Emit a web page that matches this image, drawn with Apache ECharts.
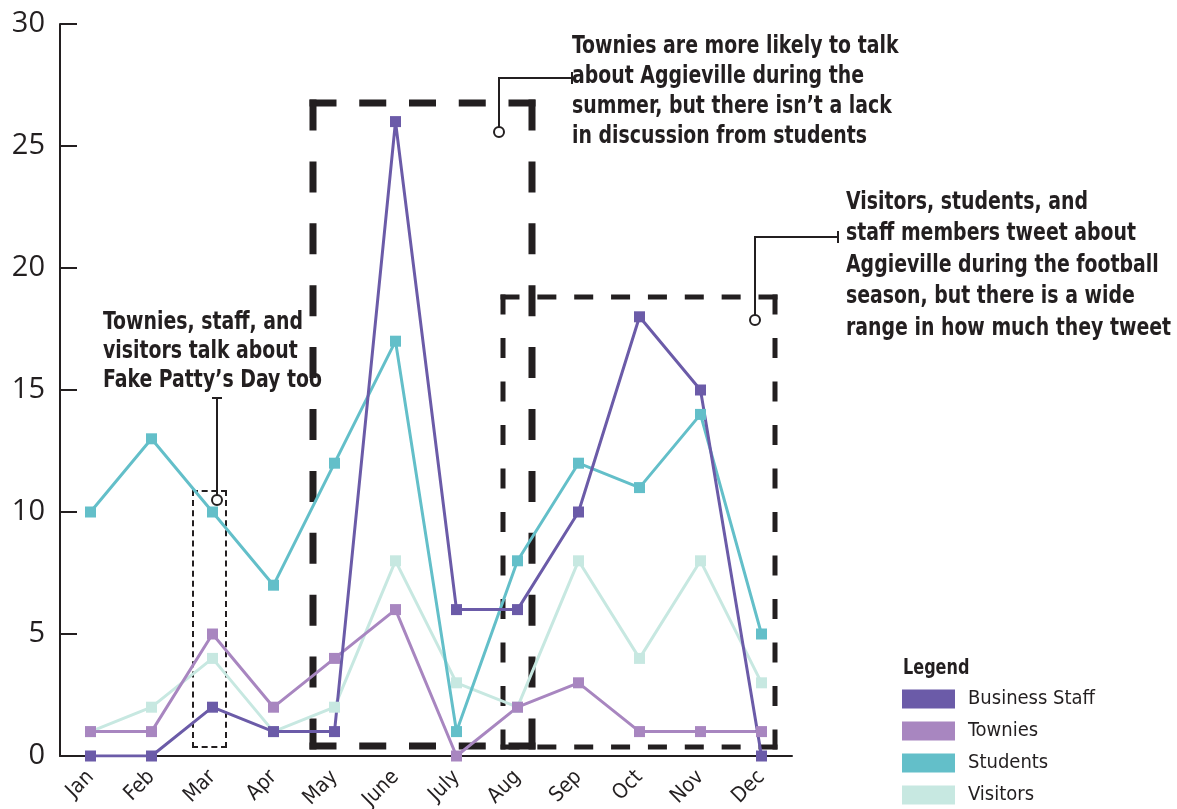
<!DOCTYPE html>
<html>
<head>
<meta charset="utf-8">
<script src="https://cdn.jsdelivr.net/npm/echarts@6/dist/echarts.min.js"></script>
<style>
html,body{margin:0;padding:0;background:#fff;}
#chart{width:1177px;height:809px;}
</style>
</head>
<body>
<div id="chart"></div>
<script>
const months = ['Jan','Feb','Mar','Apr','May','June','July','Aug','Sep','Oct','Nov','Dec'];
const businessStaff = [0,0,2,1,1,26,6,6,10,18,15,0];
const townies = [1,1,5,2,4,6,0,2,3,1,1,1];
const students = [10,13,10,7,12,17,1,8,12,11,14,5];
const visitors = [1,2,4,1,2,8,3,2,8,4,8,3];
const yTicks = [0,5,10,15,20,25,30];

const colors = {
  'Business Staff': '#6b5ba8',
  'Townies': '#a886c0',
  'Students': '#63bfc9',
  'Visitors': '#c7e8e1'
};
const NARROW = '"DejaVu Sans Condensed","Liberation Sans Narrow",sans-serif';
const INK = '#231f20';

function mkSeries(name, data) {
  return {
    name: name, type: 'line', data: data,
    symbol: 'rect', symbolSize: 11,
    lineStyle: {width: 3, color: colors[name]},
    itemStyle: {color: colors[name]},
    emphasis: {disabled: true},
    animation: false
  };
}

// dashed side whose dashes begin and end exactly at its corners
function side(p1, p2, w, d, g) {
  const L = Math.hypot(p2[0] - p1[0], p2[1] - p1[1]) + w;
  let n = Math.max(2, Math.round((L + g) / (d + g)));
  const gap = (L - n * d) / (n - 1);
  const ux = (p2[0] - p1[0]) / (L - w), uy = (p2[1] - p1[1]) / (L - w);
  const a = [p1[0] - ux * w / 2, p1[1] - uy * w / 2];
  const b = [p2[0] + ux * w / 2, p2[1] + uy * w / 2];
  return {type:'polyline', shape:{points:[a, b]}, style:{stroke: INK, lineWidth: w, lineDash: [d, gap], fill: null, lineCap: 'butt'}, z: 1};
}
function dashedBox(x1, y1, x2, y2, w, dh, gh, dv, gv) {
  return [
    side([x1,y1],[x2,y1], w, dh, gh),
    side([x1,y2],[x2,y2], w, dh, gh),
    side([x1,y1],[x1,y2], w, dv, gv),
    side([x2,y1],[x2,y2], w, dv, gv)
  ];
}
function conn(points, circle) {
  return [
    {type:'polyline', shape:{points: points}, style:{stroke: INK, lineWidth: 2, fill: null}, z: 5},
    {type:'circle', shape:{cx: circle[0], cy: circle[1], r: 5}, style:{stroke: INK, lineWidth: 2, fill: '#fff'}, z: 5}
  ];
}
function note(x, y, text, lh, size, sx) {
  return {type:'text', x: x, y: y, scaleX: sx, z: 6, style:{text: text, font: 'bold ' + size + 'px ' + NARROW, fill: INK, lineHeight: lh, verticalAlign: 'top', align: 'left'}};
}

const graphics = [].concat(
  dashedBox(313, 103, 532, 746, 7, 27, 28, 31, 34),
  dashedBox(503, 297, 775, 747, 5, 19, 20, 20, 22),
  dashedBox(193, 491, 226, 747, 2, 6, 4, 6, 4),
  conn([[212,398],[222,398],[217,398],[217,495]], [217,500]),
  conn([[572,72],[572,84],[572,78],[499,78],[499,127]], [499,132]),
  conn([[838,231],[838,243],[838,237],[755,237],[755,315]], [755,320]),
  [
    note(103, 308, 'Townies, staff, and\nvisitors talk about\nFake Patty\u2019s Day too', 29, 24, 0.875),
    note(572, 32, 'Townies are more likely to talk\nabout Aggieville during the\nsummer, but there isn\u2019t a lack\nin discussion from students', 30, 24, 0.875),
    note(846, 187, 'Visitors, students, and\nstaff members tweet about\nAggieville during the football\nseason, but there is a wide\nrange in how much they tweet', 31.5, 24, 0.875),
    note(903, 658, 'Legend', 22, 21, 0.85)
  ]
);

const chart = echarts.init(document.getElementById('chart'), null, {renderer: 'canvas'});
chart.setOption({
  backgroundColor: '#fff',
  animation: false,
  grid: {left: 60, right: 385, top: 24, bottom: 53, containLabel: false, outerBoundsMode: 'none'},
  legend: {
    data: ['Business Staff','Townies','Students','Visitors'],
    orient: 'vertical', left: 902, top: 689, padding: 0,
    icon: 'rect', itemWidth: 53, itemHeight: 19, itemGap: 12,
    selectedMode: false,
    textStyle: {fontFamily: NARROW, fontSize: 20, color: INK, padding: [0,0,0,8]}
  },
  xAxis: {
    type: 'category', data: months, boundaryGap: true,
    axisLine: {lineStyle: {color: INK, width: 2}},
    axisTick: {inside: true, length: 18, lineStyle: {color: INK, width: 2}},
    axisLabel: {rotate: 45, margin: 18, fontFamily: NARROW, fontSize: 21, color: INK, interval: 0}
  },
  yAxis: {
    type: 'value', min: 0, max: 30, interval: 5,
    axisLine: {show: true, lineStyle: {color: INK, width: 2}},
    axisTick: {show: true, inside: true, length: 17, lineStyle: {color: INK, width: 2}},
    splitLine: {show: false},
    axisLabel: {margin: 15, fontFamily: '"Open Sans",sans-serif', fontSize: 29, color: INK,
      formatter: function (v) { return yTicks.indexOf(v) >= 0 ? String(v) : ''; }}
  },
  graphic: graphics,
  series: [
    mkSeries('Visitors', visitors),
    mkSeries('Students', students),
    mkSeries('Townies', townies),
    mkSeries('Business Staff', businessStaff)
  ]
});
</script>
</body>
</html>
